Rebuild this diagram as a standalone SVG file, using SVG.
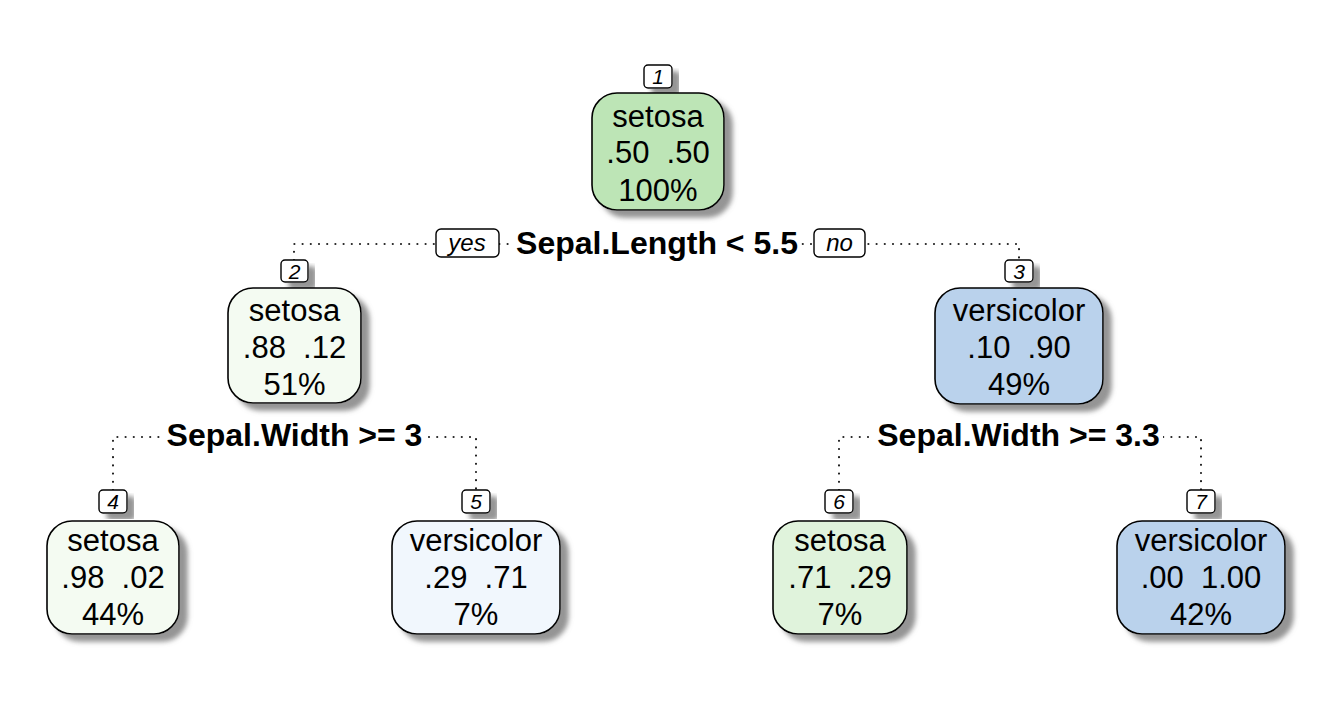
<svg xmlns="http://www.w3.org/2000/svg" width="1327" height="702" viewBox="0 0 1327 702">
<style>
.bg{fill:#ffffff}
.box{stroke:#000;stroke-width:1.6}
.lab{fill:#fff;stroke:#000;stroke-width:1.4}
.nt{font-family:"Liberation Sans",Arial,sans-serif;font-size:31px;fill:#000;text-anchor:middle;white-space:pre}
.num{font-family:"Liberation Sans",Arial,sans-serif;font-size:21px;font-style:italic;fill:#000;text-anchor:middle}
.cond{font-family:"Liberation Sans",Arial,sans-serif;font-size:32px;font-weight:bold;fill:#000;text-anchor:middle}
.yn{font-family:"Liberation Sans",Arial,sans-serif;font-size:24px;font-style:italic;fill:#000;text-anchor:middle}
.dot{fill:none;stroke:#222;stroke-width:2.2;stroke-linecap:round;stroke-dasharray:0 8.2}
.g1{fill:#bde5b6}
.g2{fill:#f4fbf2}
.g3{fill:#e0f3dc}
.b1{fill:#bad2ec}
.b2{fill:#f1f7fd}
</style>
<defs>
<filter id="sh" x="-15%" y="-15%" width="140%" height="140%">
<feGaussianBlur in="SourceAlpha" stdDeviation="2.5"/>
<feOffset dx="8" dy="7" result="b"/>
<feFlood flood-color="#7a7a7a" flood-opacity="0.8"/>
<feComposite in2="b" operator="in"/>
<feMerge><feMergeNode/><feMergeNode in="SourceGraphic"/></feMerge>
</filter>
</defs>
<rect class="bg" x="0" y="0" width="1327" height="702"/>

<g id="connectors">
<path class="dot" d="M294,260 V244 H1019 V260"/>
<path class="dot" d="M113,490 V437 H476 V490"/>
<path class="dot" d="M839,490 V437 H1201 V490"/>
</g>

<g id="split1">
<rect class="bg" x="513" y="228" width="288" height="32"/>
<text class="cond" x="657" y="254">Sepal.Length &lt; 5.5</text>
<rect class="lab" x="436" y="229" width="63" height="28" rx="5"/>
<text class="yn" x="467" y="251">yes</text>
<rect class="lab" x="814" y="229" width="51" height="28" rx="5"/>
<text class="yn" x="839.5" y="251">no</text>
</g>
<g id="split2">
<rect class="bg" x="163" y="421" width="263" height="32"/>
<text class="cond" x="294.5" y="446">Sepal.Width &gt;= 3</text>
</g>
<g id="split3">
<rect class="bg" x="874" y="421" width="289" height="32"/>
<text class="cond" x="1018.5" y="446">Sepal.Width &gt;= 3.3</text>
</g>

<g id="node1">
<rect class="lab" x="644" y="65" width="28" height="23" rx="4" filter="url(#sh)"/>
<text class="num" x="658" y="84">1</text>
<rect class="box g1" x="592" y="93" width="132" height="117" rx="25" filter="url(#sh)"/>
<text class="nt" x="658" y="127">setosa</text>
<text class="nt" x="658" y="163">.50  .50</text>
<text class="nt" x="658" y="201">100%</text>
</g>

<g id="node2">
<rect class="lab" x="281" y="260" width="27" height="22" rx="4" filter="url(#sh)"/>
<text class="num" x="294.5" y="279">2</text>
<rect class="box g2" x="228" y="288" width="133" height="115" rx="25" filter="url(#sh)"/>
<text class="nt" x="294.5" y="321">setosa</text>
<text class="nt" x="294.5" y="358">.88  .12</text>
<text class="nt" x="294.5" y="395">51%</text>
</g>

<g id="node3">
<rect class="lab" x="1005" y="260" width="28" height="22" rx="4" filter="url(#sh)"/>
<text class="num" x="1019" y="279">3</text>
<rect class="box b1" x="935" y="288" width="168" height="116" rx="25" filter="url(#sh)"/>
<text class="nt" x="1019" y="321">versicolor</text>
<text class="nt" x="1019" y="358">.10  .90</text>
<text class="nt" x="1019" y="395">49%</text>
</g>

<g id="node4">
<rect class="lab" x="99" y="490" width="28" height="23" rx="4" filter="url(#sh)"/>
<text class="num" x="113" y="509">4</text>
<rect class="box g2" x="47" y="521" width="132" height="113" rx="25" filter="url(#sh)"/>
<text class="nt" x="113" y="551">setosa</text>
<text class="nt" x="113" y="588">.98  .02</text>
<text class="nt" x="113" y="625">44%</text>
</g>

<g id="node5">
<rect class="lab" x="462" y="490" width="28" height="23" rx="4" filter="url(#sh)"/>
<text class="num" x="476" y="509">5</text>
<rect class="box b2" x="392" y="521" width="168" height="113" rx="25" filter="url(#sh)"/>
<text class="nt" x="476" y="551">versicolor</text>
<text class="nt" x="476" y="588">.29  .71</text>
<text class="nt" x="476" y="625">7%</text>
</g>

<g id="node6">
<rect class="lab" x="825" y="490" width="28" height="23" rx="4" filter="url(#sh)"/>
<text class="num" x="839" y="509">6</text>
<rect class="box g3" x="773" y="521" width="134" height="113" rx="25" filter="url(#sh)"/>
<text class="nt" x="840" y="551">setosa</text>
<text class="nt" x="840" y="588">.71  .29</text>
<text class="nt" x="840" y="625">7%</text>
</g>

<g id="node7">
<rect class="lab" x="1187" y="490" width="28" height="23" rx="4" filter="url(#sh)"/>
<text class="num" x="1201" y="509">7</text>
<rect class="box b1" x="1117" y="521" width="168" height="113" rx="25" filter="url(#sh)"/>
<text class="nt" x="1201" y="551">versicolor</text>
<text class="nt" x="1201" y="588">.00  1.00</text>
<text class="nt" x="1201" y="625">42%</text>
</g>
</svg>
